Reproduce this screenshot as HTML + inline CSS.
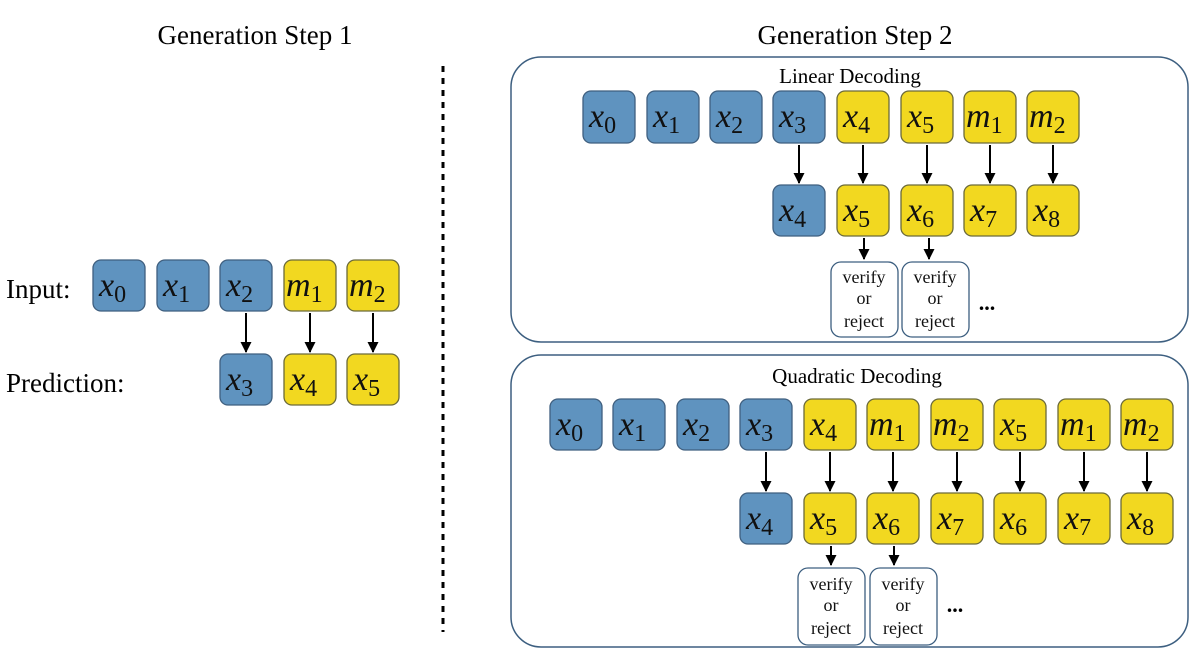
<!DOCTYPE html>
<html><head><meta charset="utf-8"><style>
html,body{margin:0;padding:0;background:#fff;}
svg{display:block;font-family:"Liberation Serif",serif;}
.b{fill:#5f93bf;stroke:#3f5f7f;stroke-width:1.3}
.y{fill:#f2d820;stroke:#6b6a3a;stroke-width:1.3}
.v{fill:#fff;stroke:#3d5f80;stroke-width:1.3}
.t{font-size:34px;font-style:italic;fill:#111}
.s{font-size:24px;font-style:normal}
.w{font-size:18px;fill:#111;text-anchor:middle}
</style></head><body>
<svg width="1200" height="652" viewBox="0 0 1200 652" xmlns="http://www.w3.org/2000/svg">
<defs><marker id="a" markerWidth="11" markerHeight="12" refX="10" refY="5.5" orient="auto" markerUnits="userSpaceOnUse" viewBox="0 0 11 11"><path d="M0,0 L11,5.5 L0,11z" fill="#000"/></marker></defs>
<text x="255" y="44" font-size="27" text-anchor="middle">Generation Step 1</text>
<text x="855" y="44" font-size="27" text-anchor="middle">Generation Step 2</text>
<line x1="443" y1="66" x2="443" y2="632" stroke="#000" stroke-width="3" stroke-dasharray="6,6"/>
<text x="6" y="298" font-size="27">Input:</text>
<text x="6" y="392" font-size="27">Prediction:</text>
<rect x="511" y="57" width="677" height="285" rx="30" fill="none" stroke="#3d5f80" stroke-width="1.5"/>
<rect x="511" y="355" width="677" height="292" rx="30" fill="none" stroke="#3d5f80" stroke-width="1.5"/>
<text x="850" y="83" font-size="21" text-anchor="middle">Linear Decoding</text>
<text x="857" y="383" font-size="21" text-anchor="middle">Quadratic Decoding</text>
<!-- left -->
<rect class="b" x="93" y="260" width="52" height="51" rx="8"/><text class="t" x="99" y="296">x<tspan class="s" dy="6">0</tspan></text>
<rect class="b" x="157" y="260" width="52" height="51" rx="8"/><text class="t" x="163" y="296">x<tspan class="s" dy="6">1</tspan></text>
<rect class="b" x="220" y="260" width="52" height="51" rx="8"/><text class="t" x="226" y="296">x<tspan class="s" dy="6">2</tspan></text>
<rect class="y" x="284" y="260" width="52" height="51" rx="8"/><text class="t" x="286" y="296">m<tspan class="s" dy="6">1</tspan></text>
<rect class="y" x="347" y="260" width="52" height="51" rx="8"/><text class="t" x="349" y="296">m<tspan class="s" dy="6">2</tspan></text>
<rect class="b" x="220" y="354" width="52" height="51" rx="8"/><text class="t" x="226" y="390">x<tspan class="s" dy="6">3</tspan></text>
<rect class="y" x="284" y="354" width="52" height="51" rx="8"/><text class="t" x="290" y="390">x<tspan class="s" dy="6">4</tspan></text>
<rect class="y" x="347" y="354" width="52" height="51" rx="8"/><text class="t" x="353" y="390">x<tspan class="s" dy="6">5</tspan></text>
<g stroke="#000" stroke-width="2" marker-end="url(#a)">
<line x1="246" y1="313" x2="246" y2="352"/><line x1="310" y1="313" x2="310" y2="352"/><line x1="373" y1="313" x2="373" y2="352"/>
</g>
<!-- linear -->
<rect class="b" x="583" y="91" width="52" height="52" rx="8"/><text class="t" x="589" y="127">x<tspan class="s" dy="6">0</tspan></text>
<rect class="b" x="647" y="91" width="52" height="52" rx="8"/><text class="t" x="653" y="127">x<tspan class="s" dy="6">1</tspan></text>
<rect class="b" x="710" y="91" width="52" height="52" rx="8"/><text class="t" x="716" y="127">x<tspan class="s" dy="6">2</tspan></text>
<rect class="b" x="773" y="91" width="52" height="52" rx="8"/><text class="t" x="779" y="127">x<tspan class="s" dy="6">3</tspan></text>
<rect class="y" x="837" y="91" width="52" height="52" rx="8"/><text class="t" x="843" y="127">x<tspan class="s" dy="6">4</tspan></text>
<rect class="y" x="901" y="91" width="52" height="52" rx="8"/><text class="t" x="907" y="127">x<tspan class="s" dy="6">5</tspan></text>
<rect class="y" x="964" y="91" width="52" height="52" rx="8"/><text class="t" x="966" y="127">m<tspan class="s" dy="6">1</tspan></text>
<rect class="y" x="1027" y="91" width="52" height="52" rx="8"/><text class="t" x="1029" y="127">m<tspan class="s" dy="6">2</tspan></text>
<rect class="b" x="773" y="185" width="52" height="51" rx="8"/><text class="t" x="779" y="221">x<tspan class="s" dy="6">4</tspan></text>
<rect class="y" x="837" y="185" width="52" height="51" rx="8"/><text class="t" x="843" y="221">x<tspan class="s" dy="6">5</tspan></text>
<rect class="y" x="901" y="185" width="52" height="51" rx="8"/><text class="t" x="907" y="221">x<tspan class="s" dy="6">6</tspan></text>
<rect class="y" x="964" y="185" width="52" height="51" rx="8"/><text class="t" x="970" y="221">x<tspan class="s" dy="6">7</tspan></text>
<rect class="y" x="1027" y="185" width="52" height="51" rx="8"/><text class="t" x="1033" y="221">x<tspan class="s" dy="6">8</tspan></text>
<g stroke="#000" stroke-width="2" marker-end="url(#a)">
<line x1="799" y1="145" x2="799" y2="183"/><line x1="863" y1="145" x2="863" y2="183"/><line x1="927" y1="145" x2="927" y2="183"/><line x1="990" y1="145" x2="990" y2="183"/><line x1="1053" y1="145" x2="1053" y2="183"/>
<line x1="864" y1="238" x2="864" y2="259"/><line x1="929" y1="238" x2="929" y2="259"/>
</g>
<rect class="v" x="831" y="262" width="67" height="75" rx="10"/>
<text class="w" x="864" y="283">verify</text><text class="w" x="864" y="304">or</text><text class="w" x="864" y="327">reject</text>
<rect class="v" x="902" y="262" width="67" height="75" rx="10"/>
<text class="w" x="935" y="283">verify</text><text class="w" x="935" y="304">or</text><text class="w" x="935" y="327">reject</text>
<text x="987" y="310" font-size="22" font-weight="bold" text-anchor="middle">...</text>
<!-- quadratic -->
<rect class="b" x="550" y="399" width="52" height="51" rx="8"/><text class="t" x="556" y="435">x<tspan class="s" dy="6">0</tspan></text>
<rect class="b" x="613" y="399" width="52" height="51" rx="8"/><text class="t" x="619" y="435">x<tspan class="s" dy="6">1</tspan></text>
<rect class="b" x="677" y="399" width="52" height="51" rx="8"/><text class="t" x="683" y="435">x<tspan class="s" dy="6">2</tspan></text>
<rect class="b" x="740" y="399" width="52" height="51" rx="8"/><text class="t" x="746" y="435">x<tspan class="s" dy="6">3</tspan></text>
<rect class="y" x="804" y="399" width="52" height="51" rx="8"/><text class="t" x="810" y="435">x<tspan class="s" dy="6">4</tspan></text>
<rect class="y" x="867" y="399" width="52" height="51" rx="8"/><text class="t" x="869" y="435">m<tspan class="s" dy="6">1</tspan></text>
<rect class="y" x="931" y="399" width="52" height="51" rx="8"/><text class="t" x="933" y="435">m<tspan class="s" dy="6">2</tspan></text>
<rect class="y" x="994" y="399" width="52" height="51" rx="8"/><text class="t" x="1000" y="435">x<tspan class="s" dy="6">5</tspan></text>
<rect class="y" x="1058" y="399" width="52" height="51" rx="8"/><text class="t" x="1060" y="435">m<tspan class="s" dy="6">1</tspan></text>
<rect class="y" x="1121" y="399" width="52" height="51" rx="8"/><text class="t" x="1123" y="435">m<tspan class="s" dy="6">2</tspan></text>
<rect class="b" x="740" y="493" width="52" height="51" rx="8"/><text class="t" x="746" y="529">x<tspan class="s" dy="6">4</tspan></text>
<rect class="y" x="804" y="493" width="52" height="51" rx="8"/><text class="t" x="810" y="529">x<tspan class="s" dy="6">5</tspan></text>
<rect class="y" x="867" y="493" width="52" height="51" rx="8"/><text class="t" x="873" y="529">x<tspan class="s" dy="6">6</tspan></text>
<rect class="y" x="931" y="493" width="52" height="51" rx="8"/><text class="t" x="937" y="529">x<tspan class="s" dy="6">7</tspan></text>
<rect class="y" x="994" y="493" width="52" height="51" rx="8"/><text class="t" x="1000" y="529">x<tspan class="s" dy="6">6</tspan></text>
<rect class="y" x="1058" y="493" width="52" height="51" rx="8"/><text class="t" x="1064" y="529">x<tspan class="s" dy="6">7</tspan></text>
<rect class="y" x="1121" y="493" width="52" height="51" rx="8"/><text class="t" x="1127" y="529">x<tspan class="s" dy="6">8</tspan></text>
<g stroke="#000" stroke-width="2" marker-end="url(#a)">
<line x1="766" y1="452" x2="766" y2="491"/><line x1="830" y1="452" x2="830" y2="491"/><line x1="893" y1="452" x2="893" y2="491"/><line x1="957" y1="452" x2="957" y2="491"/><line x1="1020" y1="452" x2="1020" y2="491"/><line x1="1084" y1="452" x2="1084" y2="491"/><line x1="1147" y1="452" x2="1147" y2="491"/>
<line x1="831" y1="546" x2="831" y2="565"/><line x1="894" y1="546" x2="894" y2="565"/>
</g>
<rect class="v" x="798" y="568" width="67" height="77" rx="10"/>
<text class="w" x="831" y="590">verify</text><text class="w" x="831" y="611">or</text><text class="w" x="831" y="634">reject</text>
<rect class="v" x="870" y="568" width="67" height="77" rx="10"/>
<text class="w" x="903" y="590">verify</text><text class="w" x="903" y="611">or</text><text class="w" x="903" y="634">reject</text>
<text x="955" y="612" font-size="22" font-weight="bold" text-anchor="middle">...</text>
</svg>
</body></html>
